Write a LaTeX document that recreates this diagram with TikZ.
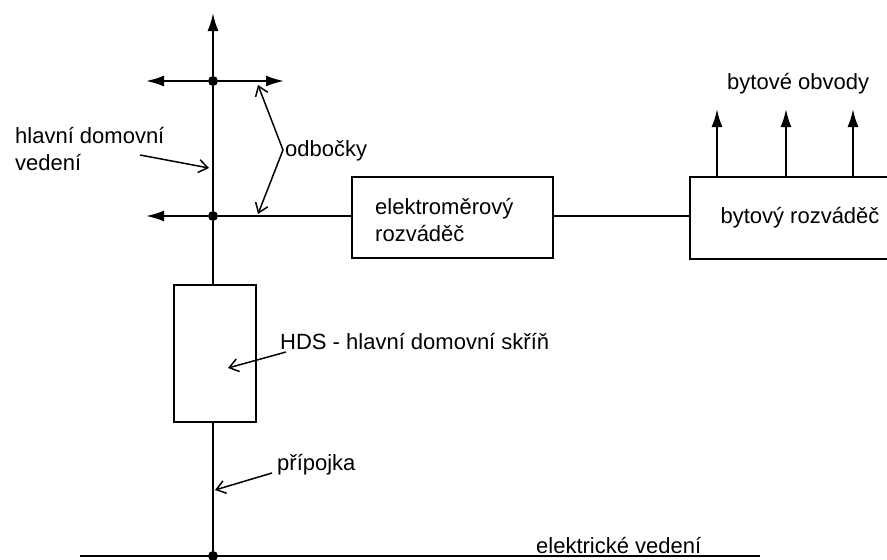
\documentclass[tikz,border=0pt]{standalone}
\usepackage{fontspec}
\setmainfont{Liberation Sans}
\usetikzlibrary{arrows.meta}
\begin{document}
\begin{tikzpicture}[x=1pt,y=-1pt,
  wire/.style={line width=2pt},
  filled/.style={wire,-{Latex[length=18pt,width=11pt]}},
  pointer/.style={line width=1.5pt,-{Straight Barb[length=9pt,width=13pt,line width=1.5pt]}},
  lbl/.style={inner sep=0pt,anchor=west,font=\fontsize{22}{27}\selectfont},
  box/.style={draw,line width=2pt,inner sep=0pt},
  dot/.style={circle,fill,inner sep=0pt,minimum size=10pt}]
\useasboundingbox (0,0) rectangle (887,560);
% junctions
\node[dot] (j1) at (213,81) {};
\node[dot] (j2) at (213,216) {};
\node[dot] (j3) at (213,556) {};
\coordinate (top) at (213,13);
\coordinate (l1) at (146,81);
\coordinate (r1) at (284,81);
\coordinate (l2) at (146,216);
\coordinate (bl) at (80,556);
\coordinate (br) at (760,556);
% boxes
\node[box,minimum width=82pt,minimum height=137pt] (hds) at (215,353.5) {};
\node[box,minimum width=201pt,minimum height=81pt] (em) at (452.5,217.5) {};
\node[box,minimum width=198pt,minimum height=82pt] (br2) at (789,218) {};
% main wires
\draw[filled] (j1) -- (top);
\draw[filled] (j1) -- (l1);
\draw[filled] (j1) -- (r1);
\draw[filled] (j2) -- (l2);
\draw[wire] (j2) -- (j1);
\draw[wire] (j2) -- (hds.north -| j2);
\draw[wire] (hds.south -| j3) -- (j3);
\draw[wire] (bl) -- (br);
\draw[wire] (j2) -- (j2 -| em.west);
\draw[wire] (j2 -| em.east) -- (j2 -| br2.west);
% bytove obvody arrows
\coordinate (o1) at (717,109);
\coordinate (o2) at (786,109);
\coordinate (o3) at (853,109);
\draw[filled] (br2.north -| o1) -- (o1);
\draw[filled] (br2.north -| o2) -- (o2);
\draw[filled] (br2.north -| o3) -- (o3);
% texts
\node[lbl] (tobv) at (727,84) {bytové obvody};
\node[inner sep=0pt,font=\fontsize{22}{27}\selectfont] (tbr) at (800,218) {bytový rozváděč};
\node[lbl,align=left] (tem) at (375,220) {elektroměrový\\rozváděč};
\node[lbl,align=left] (thv) at (15,149) {hlavní domovní\\vedení};
\node[lbl] (todb) at (285,151) {odbočky};
\node[lbl] (thds) at (280,342) {HDS - hlavní domovní skříň};
\node[lbl] (tprip) at (277,465) {přípojka};
\node[lbl] (tel) at (536,546) {elektrické vedení};
% pointers
\coordinate (bend) at (283,150);
\coordinate (p1) at (258,85);
\coordinate (p2) at (258,214);
\draw[pointer] (bend) -- (p1);
\draw[pointer] (bend) -- (p2);
\coordinate (hv1) at (140,155);
\coordinate (hv2) at (209,168);
\draw[pointer] (hv1) -- (hv2);
\coordinate (hd1) at (286,352);
\coordinate (hd2) at (228,368);
\draw[pointer] (hd1) -- (hd2);
\coordinate (pr1) at (272,473);
\coordinate (pr2) at (215,490);
\draw[pointer] (pr1) -- (pr2);
\end{tikzpicture}
\end{document}
